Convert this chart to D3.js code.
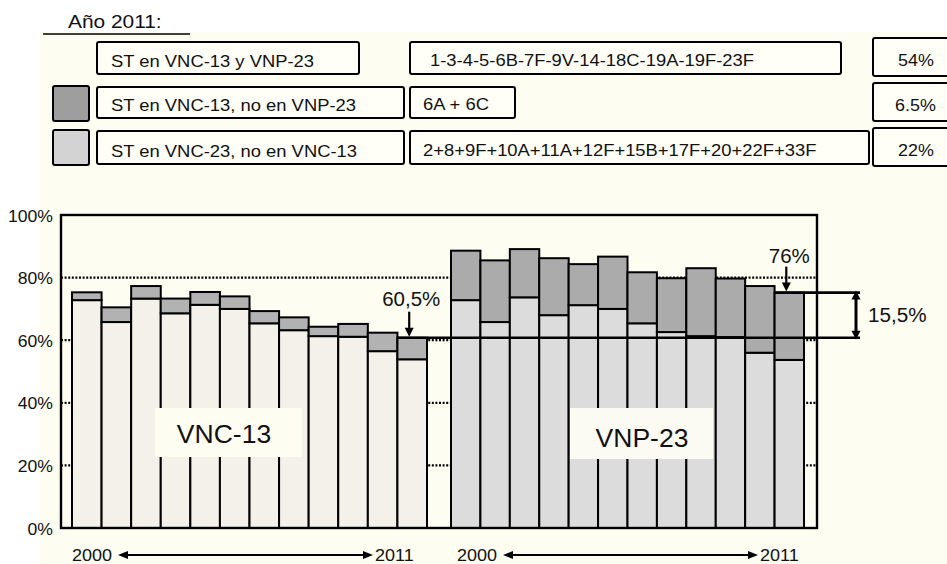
<!DOCTYPE html>
<html><head><meta charset="utf-8">
<script src="https://cdn.jsdelivr.net/npm/d3@7"></script>
<style>
html,body{margin:0;padding:0;background:#fff;}
svg{display:block;font-family:"Liberation Sans",Arial,Helvetica,sans-serif;}
</style></head>
<body>
<svg id="c" width="947" height="564"></svg>
<script>
// ---------- data ----------
const years = [2000,2001,2002,2003,2004,2005,2006,2007,2008,2009,2010,2011];
// VNC-13 group: part shared with VNP-23 (light) and total (top of gray)
const vnc13Shared = [72.8,65.8,73.3,68.6,71.3,70.0,65.4,63.2,61.3,61.1,56.5,53.9];
const vnc13Total  = [75.3,70.5,77.3,73.3,75.4,74.0,69.3,67.3,64.3,65.2,62.4,60.8];
// VNP-23 group: part shared with VNC-13 (light) and total (top of dark)
const vnp23Shared = [72.8,65.8,73.7,68.0,71.2,70.0,65.4,62.6,61.3,61.0,56.0,53.7];
const vnp23Total  = [88.6,85.5,89.1,86.2,84.3,86.7,81.7,79.8,83.0,79.7,77.3,75.2];
const yTicks = [0,20,40,60,80,100];
const groupNames = ["VNC-13","VNP-23"];
const legendTitle = "Año 2011:";
const legendLabels = ["ST en VNC-13 y VNP-23","ST en VNC-13, no en VNP-23","ST en VNC-23, no en VNC-13"];
const legendSerotypes = ["1-3-4-5-6B-7F-9V-14-18C-19A-19F-23F","6A + 6C","2+8+9F+10A+11A+12F+15B+17F+20+22F+33F"];
const legendPct = ["54%","6.5%","22%"];
const annotLabels = ["60,5%","76%","15,5%"];
const yearEnds = ["2000","2011"];

// ---------- styles ----------
const cream = "#fdfdf2";
const c13light = "#f3f1ea", c13gray = "#b2b2b2";
const c23light = "#dcdcdc", c23dark = "#ababab";

const svg = d3.select("#c");
svg.append("rect").attr("x",40).attr("y",32).attr("width",907).attr("height",532).attr("fill",cream);

function txt(x,y,s,size,sx,anchor){
  return svg.append("text")
    .attr("transform",`translate(${x},${y}) scale(${sx},1)`)
    .attr("text-anchor",anchor||"start")
    .style("font-size",size+"px").attr("fill","#111").text(s);
}
function tri(x,y,dir,w,h){ // tip at (x,y)
  const s = dir==="down"?-1:(dir==="up"?1:0);
  let pts;
  if(dir==="down"||dir==="up") pts=[[x,y],[x-w/2,y+s*h],[x+w/2,y+s*h]];
  else { const d = dir==="left"?1:-1; pts=[[x,y],[x+d*h,y-w/2],[x+d*h,y+w/2]]; }
  svg.append("polygon").attr("points",pts.map(p=>p.join(",")).join(" ")).attr("fill","#000");
}

// ---------- legend ----------
txt(68,28,legendTitle,18.5,1.13);
svg.append("line").attr("x1",43).attr("x2",190).attr("y1",34).attr("y2",34).attr("stroke","#000").attr("stroke-width",1.6);

const rowY = [42,87,131], rowH=[32,31,33];
const labW = [262,307,307];
const seroX2 = [841,515,869];
const swatch = [null,"#9e9e9e","#d3d3d3"];
const boxStyle = sel => sel.attr("fill","#fffff8").attr("stroke","#000").attr("stroke-width",2).attr("rx",2);
legendLabels.forEach((l,i)=>{
  if(swatch[i]) svg.append("rect").attr("x",53).attr("y",rowY[i]-1).attr("width",36).attr("height",35)
      .attr("fill",swatch[i]).attr("stroke","#000").attr("stroke-width",2).attr("rx",2);
  svg.append("rect").attr("x",97).attr("y",rowY[i]).attr("width",labW[i]).attr("height",rowH[i]).call(boxStyle);
  txt(111,rowY[i]+rowH[i]-7,l,16,1.15);
  svg.append("rect").attr("x",410).attr("y",rowY[i]).attr("width",seroX2[i]-410).attr("height",rowH[i]).call(boxStyle);
  txt(i===0?430:423,rowY[i]+rowH[i]-8,legendSerotypes[i],16,1.15);
});
const pctY=[38,83,128];
legendPct.forEach((p,i)=>{
  svg.append("rect").attr("x",873).attr("y",pctY[i]).attr("width",90).attr("height",38).call(boxStyle);
  txt(i===1?895:898,pctY[i]+28,p,16,1.12);
});

// ---------- chart ----------
const L=61,R=817,T=215,B=528;
const y = d3.scaleLinear().domain([0,100]).range([B,T]);
const x13 = d3.scaleBand().domain(years).range([72,427]).padding(0);
const x23 = d3.scaleBand().domain(years).range([451,804]).padding(0);

// dotted gridlines
svg.append("g").selectAll("line").data(yTicks.filter(t=>t>0&&t<100)).join("line")
  .attr("x1",L).attr("x2",R).attr("y1",d=>y(d)).attr("y2",d=>y(d))
  .attr("stroke","#000").attr("stroke-width",2.2).attr("stroke-dasharray","2,1.6");

// bars
const g13 = svg.append("g");
years.forEach((yr,i)=>{
  g13.append("rect").attr("x",x13(yr)).attr("width",x13.bandwidth())
    .attr("y",y(vnc13Shared[i])).attr("height",B-y(vnc13Shared[i]))
    .attr("fill",c13light).attr("stroke","#000").attr("stroke-width",2);
  g13.append("rect").attr("x",x13(yr)).attr("width",x13.bandwidth())
    .attr("y",y(vnc13Total[i])).attr("height",y(vnc13Shared[i])-y(vnc13Total[i]))
    .attr("fill",c13gray).attr("stroke","#000").attr("stroke-width",2);
});
const g23 = svg.append("g");
years.forEach((yr,i)=>{
  g23.append("rect").attr("x",x23(yr)).attr("width",x23.bandwidth())
    .attr("y",y(vnp23Shared[i])).attr("height",B-y(vnp23Shared[i]))
    .attr("fill",c23light).attr("stroke","#000").attr("stroke-width",2);
  g23.append("rect").attr("x",x23(yr)).attr("width",x23.bandwidth())
    .attr("y",y(vnp23Total[i])).attr("height",y(vnp23Shared[i])-y(vnp23Total[i]))
    .attr("fill",c23dark).attr("stroke","#000").attr("stroke-width",2);
});

// group labels
svg.append("rect").attr("x",155).attr("y",408).attr("width",147).attr("height",49).attr("fill",cream);
txt(224,443,groupNames[0],26,1.02,"middle");
svg.append("rect").attr("x",570).attr("y",408).attr("width",143).attr("height",51).attr("fill","#fbfbf4");
txt(642,447,groupNames[1],26,1.02,"middle");

// frame
svg.append("rect").attr("x",L).attr("y",T).attr("width",R-L).attr("height",B-T)
  .attr("fill","none").attr("stroke","#000").attr("stroke-width",2.4);

// y axis labels
const ax = svg.append("g").attr("transform",`translate(${L},0)`)
  .call(d3.axisLeft(y).tickValues(yTicks).tickFormat(d=>d+"%").tickSize(0));
ax.select(".domain").remove();
ax.selectAll("text").attr("x",0).attr("dy",null)
  .attr("transform","translate(-8,6) scale(1.1,1)")
  .style("font-size","16px").style("font-family","'Liberation Sans',Arial,sans-serif").attr("fill","#111");

// annotations
const last = years.length-1;
const yA = y(vnc13Total[last]), yB = y(vnp23Total[last]);
const xArr = 856;
svg.append("line").attr("x1",x13(years[last])).attr("x2",xArr+4).attr("y1",yA).attr("y2",yA).attr("stroke","#000").attr("stroke-width",2.6);
svg.append("line").attr("x1",x23(years[last])).attr("x2",xArr+4).attr("y1",yB).attr("y2",yB).attr("stroke","#000").attr("stroke-width",2.6);
svg.append("line").attr("x1",xArr).attr("x2",xArr).attr("y1",yB+6).attr("y2",yA-6).attr("stroke","#000").attr("stroke-width",3);
tri(xArr,yB-2,"up",9,9);
tri(xArr,yA+2,"down",9,9);
txt(868,322,annotLabels[2],19.5,1.06);

const ax13 = x13(years[last])+x13.bandwidth()/2-3;
svg.append("line").attr("x1",ax13).attr("x2",ax13).attr("y1",yA-26).attr("y2",yA-6).attr("stroke","#000").attr("stroke-width",2.2);
tri(ax13,yA-1,"down",9,9);
txt(ax13+2,yA-32,annotLabels[0],19.5,1.05,"middle");

const ax23 = x23(years[last])+x23.bandwidth()/2-3;
svg.append("line").attr("x1",ax23).attr("x2",ax23).attr("y1",yB-26).attr("y2",yB-6).attr("stroke","#000").attr("stroke-width",2.2);
tri(ax23,yB-1,"down",9,9);
txt(ax23+3,yB-30,annotLabels[1],19.5,1.05,"middle");

// year range arrows
[[72,375],[457,760]].forEach(([xs,xe])=>{
  txt(xs,561,yearEnds[0],17,1.06);
  txt(xe,561,yearEnds[1],17,1.06);
  const ya=555, a1=xs+46, a2=xe-2;
  svg.append("line").attr("x1",a1+6).attr("x2",a2-6).attr("y1",ya).attr("y2",ya).attr("stroke","#000").attr("stroke-width",1.8);
  tri(a1,ya,"left",8,10);
  tri(a2,ya,"right",8,10);
});
</script>
</body></html>
